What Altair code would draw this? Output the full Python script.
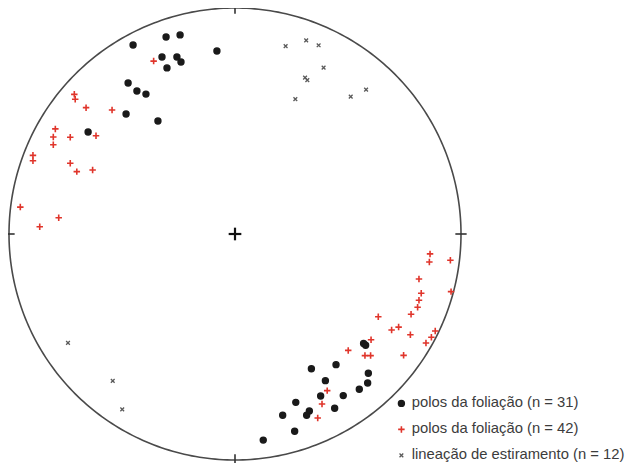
import altair as alt
import numpy as np
import pandas as pd

# Positions in the equal-area net, in units of the net radius (x east, y north)
foliacao1_x = [-0.451, -0.305, -0.243, -0.080, -0.323, -0.257, -0.239, -0.301, -0.473, -0.434,
               -0.394, -0.482, -0.341, -0.650, 0.569, 0.578, 0.338, 0.447, 0.590, 0.400,
               0.587, 0.550, 0.379, 0.479, 0.269, 0.329, 0.317, 0.441, 0.211, 0.264, 0.125]
foliacao1_y = [0.836, 0.872, 0.881, 0.810, 0.783, 0.783, 0.761, 0.735, 0.668, 0.633,
               0.619, 0.531, 0.500, 0.451, -0.484, -0.492, -0.596, -0.578, -0.616, -0.649,
               -0.659, -0.687, -0.717, -0.715, -0.745, -0.783, -0.802, -0.771, -0.802, -0.873, -0.912]

foliacao2_x = [-0.360, -0.711, -0.707, -0.659, -0.544, -0.795, -0.804, -0.804, -0.729, -0.615,
               -0.894, -0.894, -0.729, -0.700, -0.630, -0.950, -0.780, -0.864, 0.863, 0.860,
               0.953, 0.814, 0.956, 0.824, 0.814, 0.808, 0.634, 0.779, 0.693, 0.724,
               0.776, 0.886, 0.869, 0.845, 0.602, 0.501, 0.575, 0.600, 0.746, 0.408,
               0.385, 0.366]
foliacao2_y = [0.765, 0.618, 0.596, 0.559, 0.549, 0.465, 0.429, 0.395, 0.428, 0.435,
               0.348, 0.324, 0.313, 0.276, 0.283, 0.119, 0.072, 0.032, -0.088, -0.124,
               -0.116, -0.199, -0.255, -0.262, -0.293, -0.324, -0.366, -0.355, -0.425, -0.412,
               -0.446, -0.429, -0.457, -0.482, -0.468, -0.515, -0.538, -0.538, -0.537, -0.693,
               -0.752, -0.814]

lineacao_x = [0.224, 0.315, 0.370, 0.392, 0.310, 0.320, 0.267, 0.512, 0.580, -0.739, -0.541, -0.499]
lineacao_y = [0.831, 0.857, 0.835, 0.736, 0.692, 0.681, 0.597, 0.608, 0.639, -0.482, -0.650, -0.776]

series = ["polos da foliação (n = 31)", "polos da foliação (n = 42) ", "lineação de estiramento (n = 12)"]

points = pd.concat([
    pd.DataFrame({"x": foliacao1_x, "y": foliacao1_y, "serie": series[0]}),
    pd.DataFrame({"x": foliacao2_x, "y": foliacao2_y, "serie": series[1]}),
    pd.DataFrame({"x": lineacao_x, "y": lineacao_y, "serie": series[2]}),
], ignore_index=True)

# Frame geometry (primitive circle, ticks and centre cross)
t = np.linspace(0, 2 * np.pi, 361)
circle = pd.DataFrame({"x": np.sin(t), "y": np.cos(t), "o": np.arange(361)})
ticks = pd.DataFrame({
    "x": [0, 0.975, 0, -1.025], "x2": [0, 1.025, 0, -0.975],
    "y": [1.025, 0, -0.975, 0], "y2": [0.975, 0, -1.025, 0],
})
cross = pd.DataFrame({
    "x": [-0.028, 0], "x2": [0.028, 0],
    "y": [0, -0.028], "y2": [0, 0.028],
})

W, H = 619, 455
R = 226.0
cxp, cyp = 227.0, 226.0
xdom = [-cxp / R, (W - cxp) / R]
ydom = [-(H - cyp) / R, cyp / R]

xs = alt.Scale(domain=xdom, nice=False, zero=False)
ys = alt.Scale(domain=ydom, nice=False, zero=False)
X = alt.X("x:Q", scale=xs, axis=None)
Y = alt.Y("y:Q", scale=ys, axis=None)

frame = alt.Chart(circle).mark_line(color="#4a4a4a", strokeWidth=1.6, clip=False).encode(
    x=X, y=Y, order="o:Q")
tick_layer = alt.Chart(ticks).mark_rule(color="#333333", strokeWidth=1.6).encode(
    x=X, y=Y, x2="x2:Q", y2="y2:Q")
cross_layer = alt.Chart(cross).mark_rule(color="#111111", strokeWidth=2.2).encode(
    x=X, y=Y, x2="x2:Q", y2="y2:Q")

plus_path = "M-1,0L1,0M0,-1L0,1"
x_path = "M-1,-1L1,1M-1,1L1,-1"

leg = dict(title=None, orient="none", legendX=386, legendY=388)

pts = alt.Chart(points).mark_point(filled=False, opacity=1).encode(
    x=X, y=Y,
    shape=alt.Shape("serie:N", scale=alt.Scale(domain=series, range=["circle", plus_path, x_path]),
                    legend=alt.Legend(labelFontSize=14.8, labelFont="Liberation Sans",
                                      labelColor="#3c3c3c", rowPadding=10, labelOffset=3,
                                      labelLimit=400, padding=0, **leg)),
    stroke=alt.Stroke("serie:N", scale=alt.Scale(domain=series, range=["#1a1a1a", "#e0352b", "#5a5a5a"]),
                      legend=alt.Legend(**leg)),
    fill=alt.Fill("serie:N", scale=alt.Scale(domain=series, range=["#1a1a1a", "transparent", "transparent"]),
                  legend=alt.Legend(**leg)),
    size=alt.Size("serie:N", scale=alt.Scale(type="ordinal", domain=series, range=[36, 42, 14]),
                  legend=alt.Legend(**leg)),
    strokeWidth=alt.StrokeWidth("serie:N", scale=alt.Scale(type="ordinal", domain=series, range=[1.4, 1.6, 1.3]),
                                legend=alt.Legend(**leg)),
)

chart = alt.layer(frame, tick_layer, cross_layer, pts).properties(
    width=W, height=H, padding=0, autosize=alt.AutoSizeParams(type="none"),
    background="white",
).configure_view(stroke=None)

chart.save("out.html", embed_options={"renderer": "svg", "actions": False})
